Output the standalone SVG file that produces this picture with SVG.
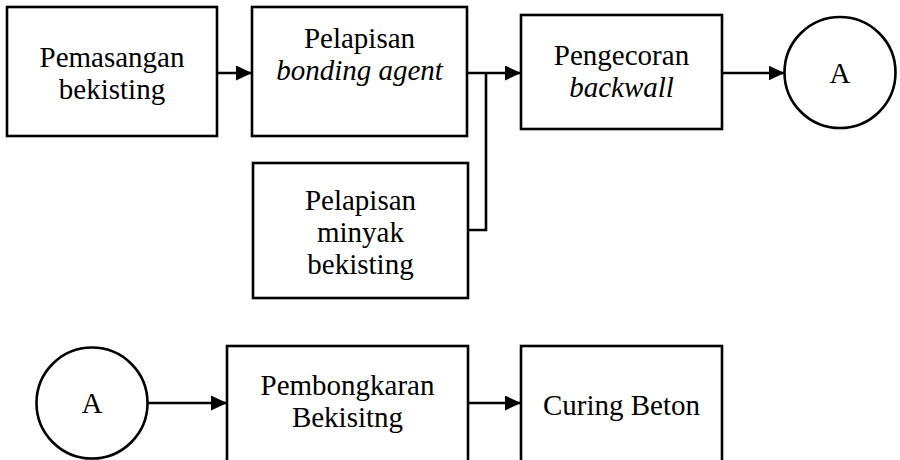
<svg xmlns="http://www.w3.org/2000/svg" width="900" height="460" viewBox="0 0 900 460">
<defs>
<style>
.box{fill:#fff;stroke:#000;stroke-width:2.6}
.t{font-family:"Liberation Serif","Times New Roman",serif;font-size:29px;fill:#000;text-anchor:middle}
.i{font-style:italic}
.c{fill:none;stroke:#000;stroke-width:2.6}
</style>
<marker id="ah" markerUnits="userSpaceOnUse" markerWidth="16" markerHeight="15" refX="16" refY="7.5" orient="auto">
<path d="M0,0 L16,7.5 L0,15 z" fill="#000"/>
</marker>
</defs>
<rect width="900" height="460" fill="#fff"/>
<g id="n1">
<rect class="box" x="7" y="7" width="210" height="129"/>
<text class="t" x="112" y="66.5">Pemasangan</text>
<text class="t" x="112" y="98.5">bekisting</text>
</g>
<g id="n2">
<rect class="box" x="252" y="7" width="215" height="129"/>
<text class="t" x="359.5" y="48">Pelapisan</text>
<text class="t i" x="359.5" y="80">bonding agent</text>
</g>
<g id="n3">
<rect class="box" x="521" y="15" width="201" height="114"/>
<text class="t" x="621.5" y="65">Pengecoran</text>
<text class="t i" x="621.5" y="97">backwall</text>
</g>
<g id="nA1">
<circle class="box" cx="840" cy="72.5" r="55.5"/>
<text class="t" x="840" y="82.5">A</text>
</g>
<g id="n4">
<rect class="box" x="253" y="163" width="215" height="135"/>
<text class="t" x="360.5" y="210">Pelapisan</text>
<text class="t" x="360.5" y="242">minyak</text>
<text class="t" x="360.5" y="274">bekisting</text>
</g>
<g id="nA2">
<circle class="box" cx="92" cy="403" r="55.5"/>
<text class="t" x="92" y="413">A</text>
</g>
<g id="n5">
<rect class="box" x="227" y="346" width="241" height="130"/>
<text class="t" x="347.5" y="395">Pembongkaran</text>
<text class="t" x="347.5" y="427">Bekisitng</text>
</g>
<g id="n6">
<rect class="box" x="521" y="346" width="201" height="130"/>
<text class="t" x="621.5" y="415">Curing Beton</text>
</g>
<g id="connectors">
<line class="c" x1="217" y1="73" x2="252" y2="73" marker-end="url(#ah)"/>
<line class="c" x1="467" y1="73" x2="521" y2="73" marker-end="url(#ah)"/>
<polyline class="c" points="468,230 486,230 486,73"/>
<line class="c" x1="722" y1="73" x2="784.5" y2="73" marker-end="url(#ah)"/>
<line class="c" x1="147.5" y1="403" x2="227" y2="403" marker-end="url(#ah)"/>
<line class="c" x1="468" y1="403" x2="521" y2="403" marker-end="url(#ah)"/>
</g>
</svg>
